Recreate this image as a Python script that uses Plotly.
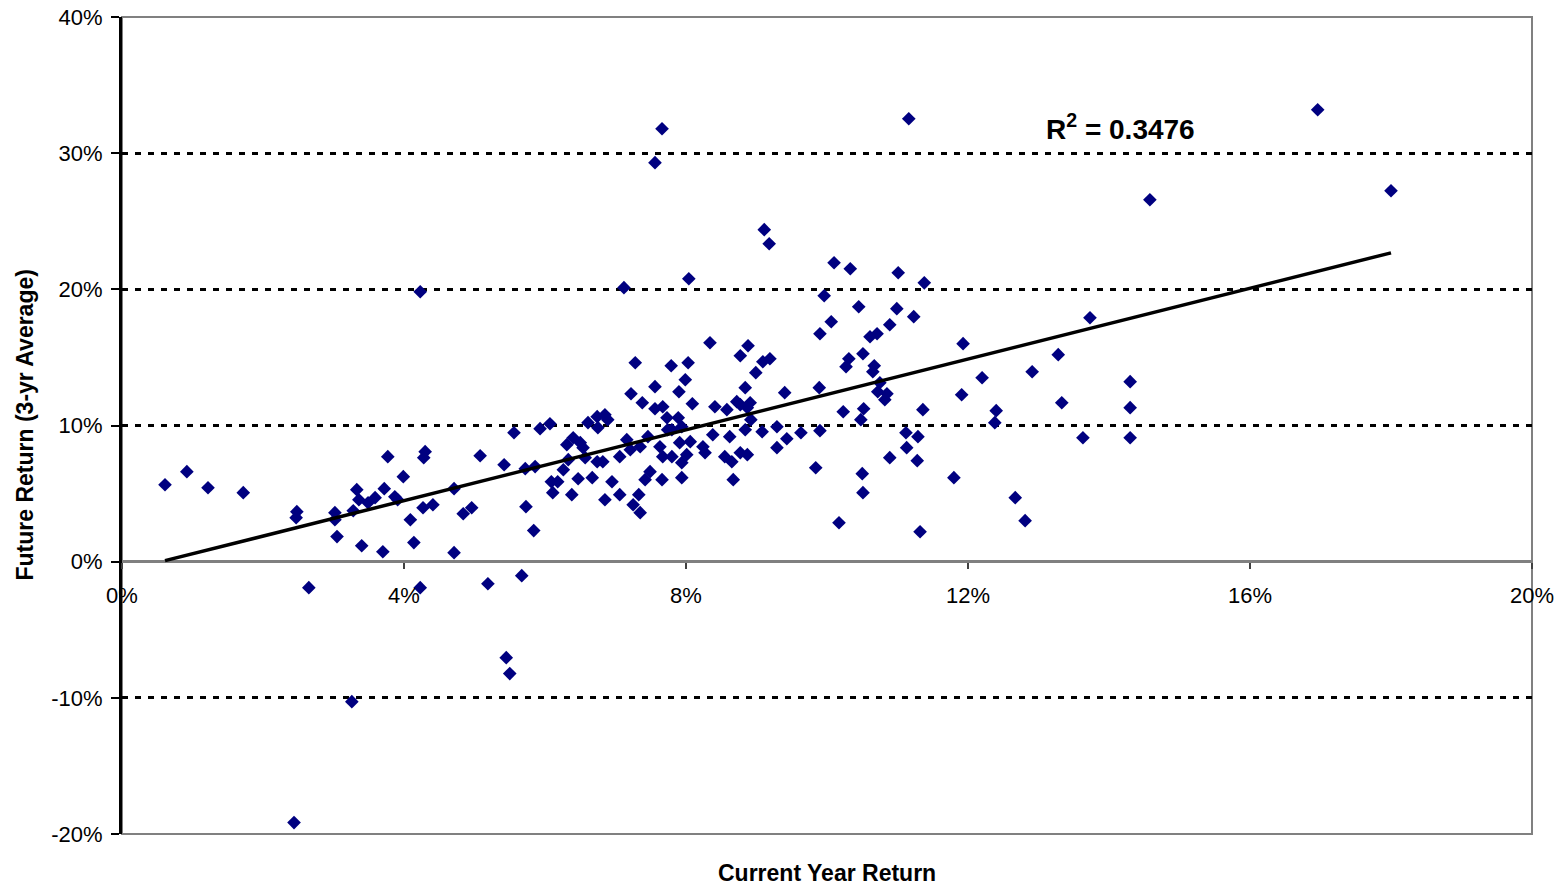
import numpy as np
import plotly.graph_objects as go

# Current-year return (%) and the following 3-year average return (%)
current_return = [
    0.61, 0.92, 1.22, 1.72, 2.48, 2.47, 2.65, 3.02, 3.02, 3.05,
    3.28, 3.33, 3.36, 3.40, 3.49, 3.59, 3.70, 3.72, 3.77, 3.87,
    3.91, 3.99, 4.09, 4.14, 4.23, 4.27, 4.41, 4.30, 4.28, 4.71,
    4.71, 4.84, 4.96, 5.08, 5.19, 5.42, 5.56, 5.67, 5.73, 5.72,
    5.86, 5.84, 5.93, 5.45, 5.50, 3.26, 2.44, 4.23,
    6.07, 6.09, 6.18, 6.11, 6.26, 6.31, 6.40, 6.33, 6.38, 6.47,
    6.50, 6.54, 6.57, 6.61, 6.67, 6.74, 6.85, 6.89, 6.75, 6.74,
    6.82, 6.85, 6.95, 7.06, 7.06, 7.16, 7.21, 7.28, 7.22, 7.25,
    7.35, 7.33, 7.38, 7.42, 7.49, 7.35, 7.46, 7.56, 7.56, 7.66,
    7.67, 7.63, 7.73, 7.80, 7.89, 7.94, 7.74, 7.67, 7.80, 7.79,
    7.90, 7.91, 8.06, 7.94, 8.01, 7.94, 7.99, 8.03, 8.09, 8.24,
    8.27, 8.34, 8.41, 8.58, 8.38, 8.55, 8.65, 8.62, 8.67, 8.72,
    8.77, 8.91, 8.87, 8.77, 8.88, 8.77, 8.87, 8.84, 8.84, 8.92,
    8.99, 9.08, 9.09, 9.19, 9.29, 9.29,
    7.66, 7.56, 9.11, 9.18, 7.12, 8.04,
    10.10, 10.33, 11.01, 11.38, 9.96, 10.06, 10.45, 10.99, 11.23, 9.90,
    10.61, 10.71, 10.89, 11.93, 10.31, 10.27, 10.51, 10.67, 10.65, 10.75,
    10.72, 10.85, 10.82, 9.40, 9.89, 12.91, 12.20, 11.91, 13.28, 10.23,
    10.52, 10.48, 11.36, 12.40, 12.38, 9.43, 9.63, 9.90, 11.12, 11.29,
    11.13, 11.28, 10.89, 9.84, 10.50, 10.51, 11.80, 12.67, 12.81, 10.17,
    11.32,
    11.16, 14.58, 16.96, 18.00, 13.73, 14.30, 13.33, 14.30, 13.63, 14.30,
]

future_return = [
    5.65, 6.61, 5.43, 5.07, 3.67, 3.23, -1.91, 3.60, 3.08, 1.84,
    3.74, 5.29, 4.55, 1.17, 4.33, 4.70, 0.73, 5.36, 7.71, 4.77,
    4.55, 6.24, 3.08, 1.40, -1.91, 3.96, 4.18, 8.08, 7.64, 5.36,
    0.66, 3.52, 3.96, 7.78, -1.62, 7.12, 9.47, -1.03, 4.04, 6.83,
    6.98, 2.28, 9.77, -7.05, -8.22, -10.28, -19.16, 19.82,
    10.13, 5.87, 5.87, 5.07, 6.75, 8.59, 9.10, 7.49, 4.92, 6.09,
    8.74, 8.37, 7.64, 10.21, 6.17, 10.65, 10.79, 10.43, 9.84, 7.34,
    7.34, 4.55, 5.87, 4.92, 7.71, 8.96, 8.22, 14.61, 12.33, 4.18,
    3.60, 4.92, 11.67, 6.02, 6.61, 8.44, 9.18, 12.85, 11.23, 6.02,
    11.38, 8.44, 10.57, 9.69, 10.57, 9.91, 9.69, 7.71, 7.71, 14.39,
    12.48, 8.74, 8.81, 7.27, 7.86, 6.17, 13.36, 14.61, 11.60, 8.44,
    8.00, 16.08, 11.38, 11.16, 9.32, 7.71, 7.34, 9.18, 6.02, 11.75,
    11.53, 11.67, 11.31, 15.12, 15.86, 8.00, 7.86, 12.78, 9.69, 10.43,
    13.88, 9.54, 14.68, 14.90, 9.91, 8.37,
    31.79, 29.30, 24.38, 23.35, 20.12, 20.78,
    21.95, 21.51, 21.22, 20.48, 19.53, 17.62, 18.72, 18.58, 17.99, 16.74,
    16.52, 16.74, 17.40, 16.01, 14.90, 14.32, 15.27, 14.39, 13.95, 13.14,
    12.48, 12.33, 11.89, 12.41, 12.78, 13.95, 13.51, 12.26, 15.20, 11.01,
    11.23, 10.43, 11.16, 11.09, 10.21, 9.03, 9.47, 9.62, 9.47, 9.18,
    8.37, 7.42, 7.64, 6.90, 6.46, 5.07, 6.17, 4.70, 3.01, 2.86,
    2.20,
    32.53, 26.58, 33.19, 27.24, 17.91, 13.22, 11.67, 11.31, 9.10, 9.10,
]

x_ticks = [0, 4, 8, 12, 16, 20]
y_ticks = [-20, -10, 0, 10, 20, 30, 40]
r2_label = "R<sup>2</sup> = 0.3476"
r2_pos = (14.17, 31.9)

FONT = "Arial, Liberation Sans, sans-serif"

# Linear trend fitted to the scatter, spanning the observed x range
xs = np.array(current_return)
ys = np.array(future_return)
slope, intercept = np.polyfit(xs, ys, 1)
trend_x = np.array([xs.min(), xs.max()])
trend_y = slope * trend_x + intercept

fig = go.Figure()

fig.add_trace(go.Scatter(
    x=current_return, y=future_return, mode="markers",
    marker=dict(symbol="diamond", size=10.5, color="#000080",
                line=dict(width=0)),
    showlegend=False, hoverinfo="x+y",
))

fig.add_trace(go.Scatter(
    x=trend_x, y=trend_y, mode="lines",
    line=dict(color="black", width=3.5),
    showlegend=False, hoverinfo="skip",
))

y_min, y_max = y_ticks[0], y_ticks[-1]

fig.update_layout(
    width=1566, height=887,
    margin=dict(l=122, r=34, t=17, b=53, autoexpand=False),
    paper_bgcolor="white", plot_bgcolor="white",
    font=dict(family=FONT, color="black", size=22),
    xaxis=dict(
        range=[x_ticks[0], x_ticks[-1]],
        tickvals=x_ticks, ticktext=[f"{v}%" for v in x_ticks],
        anchor="free", position=(0 - y_min) / (y_max - y_min),
        showline=False, showgrid=False, zeroline=False,
        ticks="outside", ticklen=6, tickwidth=1.5, tickcolor="#404040",
        ticklabelstandoff=8,
        tickfont=dict(size=22, family=FONT),
    ),
    yaxis=dict(
        range=[y_min, y_max],
        tickvals=y_ticks, ticktext=[f"{v}%" for v in y_ticks],
        showline=True, linecolor="black", linewidth=3,
        ticks="outside", ticklen=8, tickwidth=2, tickcolor="black",
        ticklabelstandoff=4,
        showgrid=True, gridcolor="black", gridwidth=3, griddash="6px,7px",
        zeroline=True, zerolinecolor="#808080", zerolinewidth=3,
        tickfont=dict(size=22, family=FONT),
    ),
    shapes=[dict(
        type="rect", xref="paper", yref="paper", x0=0, x1=1, y0=0, y1=1,
        line=dict(color="#808080", width=2), layer="below",
    )],
    annotations=[
        dict(text="<b>" + r2_label + "</b>", x=r2_pos[0], y=r2_pos[1],
             xref="x", yref="y", showarrow=False,
             font=dict(size=28, family=FONT, color="black"),
             xanchor="center", yanchor="middle"),
        dict(text="<b>Current Year Return</b>", x=0.5, y=0, xref="paper",
             yref="paper", yshift=-39, showarrow=False,
             font=dict(size=23, family=FONT), xanchor="center",
             yanchor="middle"),
        dict(text="<b>Future Return (3-yr Average)</b>", x=0, y=0.5,
             xref="paper", yref="paper", xshift=-98, textangle=-90,
             showarrow=False, font=dict(size=23, family=FONT),
             xanchor="center", yanchor="middle"),
    ],
)

fig.write_html("out.html")
